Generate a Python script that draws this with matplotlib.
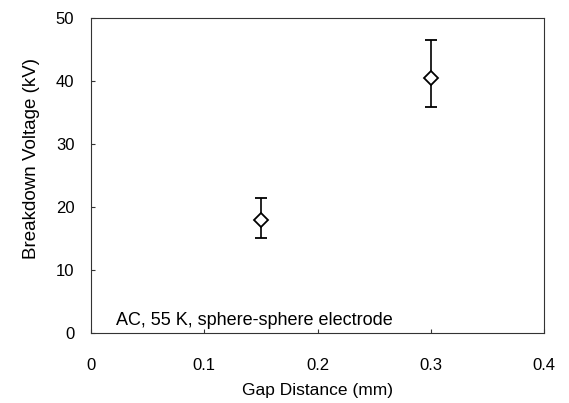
import numpy as np
import matplotlib
matplotlib.use('Agg')
import matplotlib.pyplot as plt

# Data
gap_mm = [0.15, 0.30]
bd_kv = [17.9, 40.5]
bd_min = [15.1, 35.9]
bd_max = [21.4, 46.5]
x_ticks = [0, 0.1, 0.2, 0.3, 0.4]
y_ticks = [0, 10, 20, 30, 40, 50]
note = 'AC, 55 K, sphere-sphere electrode'

plt.rcParams['font.family'] = ['Liberation Sans', 'DejaVu Sans']

fig = plt.figure(figsize=(5.69, 4.03), dpi=100)
ax = fig.add_axes([91 / 569, 1 - 333 / 403, 453 / 569, 315 / 403])

yerr = np.array([np.subtract(bd_kv, bd_min), np.subtract(bd_max, bd_kv)])
ax.errorbar(gap_mm, bd_kv, yerr=yerr, fmt='D', ms=7.5, mfc='white', mec='black',
            mew=1.3, ecolor='black', elinewidth=1.2, capsize=4, capthick=1.2)

ax.set_xlim(0, 0.4)
ax.set_ylim(0, 50)
ax.set_xticks(x_ticks)
ax.set_xticklabels(['0', '0.1', '0.2', '0.3', '0.4'])
ax.set_yticks(y_ticks)
ax.tick_params(direction='in', length=3, width=0.8, labelsize=12, color='#333333')
ax.tick_params(axis='x', pad=18)
ax.tick_params(axis='y', pad=12)
for s in ax.spines.values():
    s.set_linewidth(0.8)
    s.set_color('#333333')

ax.set_xlabel('Gap Distance (mm)', fontsize=12.5, labelpad=7)
ax.set_ylabel('Breakdown Voltage (kV)', fontsize=13.5)
ax.yaxis.set_label_coords(-0.112, 0.553)
ax.text(0.022, 2.0, note, fontsize=13, ha='left', va='center')

fig.savefig('out.png', dpi=100)
